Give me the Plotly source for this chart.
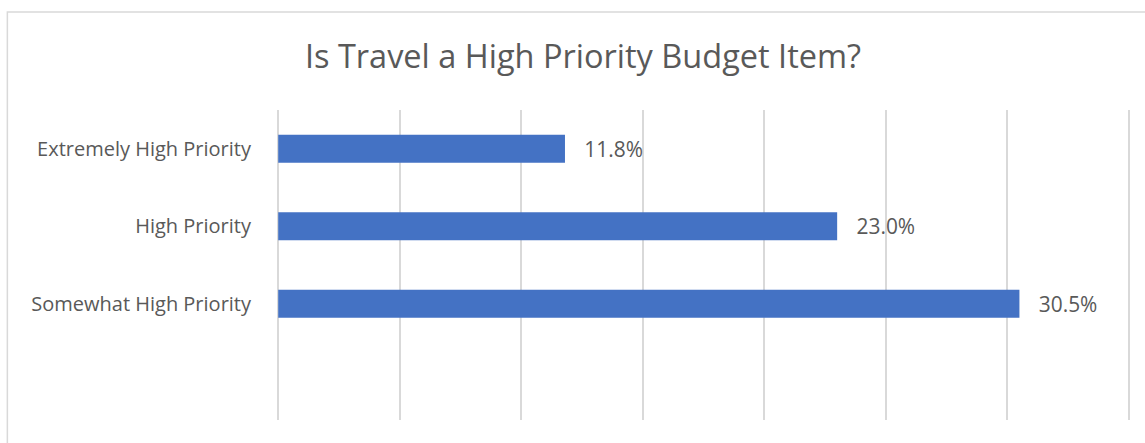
import plotly.graph_objects as go

categories = ["Extremely High Priority", "High Priority", "Somewhat High Priority", " "]
values = [11.8, 23.0, 30.5, None]
labels = ["11.8%", "23.0%", "30.5%", ""]
title_text = "Is Travel a High Priority Budget Item?"

font_family = "Open Sans, Noto Sans, sans-serif"
text_color = "#595959"
grid_color = "#d9d9d9"
bar_color = "#4472C4"

fig = go.Figure()
fig.add_trace(go.Bar(
    y=categories,
    x=values,
    orientation="h",
    marker=dict(color=bar_color, line=dict(width=0)),
    width=0.36,
    text=["   " + t if t else "" for t in labels],
    textposition="outside",
    textfont=dict(family=font_family, size=21, color=text_color),
    cliponaxis=False,
    hoverinfo="skip",
))

W, H = 1145, 443
pad = 0.05
xmin, xmax = 0 - pad, 35 + pad
x0px, x35px = 278, 1129
scale = (x35px - x0px) / 35.0
pl = x0px - pad * scale
pr = W - (x35px + pad * scale)
pt, pb = 110, 23
pw, ph = W - pl - pr, H - pt - pb

def px_to_paper_x(x):
    return (x - pl) / pw

def px_to_paper_y(y):
    return (H - pb - y) / ph

fig.add_shape(
    type="rect", xref="paper", yref="paper",
    x0=px_to_paper_x(7), x1=px_to_paper_x(1160),
    y0=px_to_paper_y(460), y1=px_to_paper_y(12),
    line=dict(color=grid_color, width=1.5), fillcolor="rgba(0,0,0,0)",
    layer="below",
)

fig.update_layout(
    width=W, height=H,
    margin=dict(l=pl, r=pr, t=pt, b=pb),
    paper_bgcolor="white",
    plot_bgcolor="white",
    showlegend=False,
    title=dict(
        text=title_text,
        x=583 / W,
        xanchor="center",
        y=1 - 57 / H,
        yanchor="middle",
        font=dict(family=font_family, size=32.5, color=text_color),
    ),
    xaxis=dict(
        range=[xmin, xmax],
        dtick=5,
        tick0=0,
        showgrid=True,
        gridcolor=grid_color,
        gridwidth=1.5,
        zeroline=False,
        showticklabels=False,
        showline=False,
        fixedrange=True,
    ),
    yaxis=dict(
        categoryorder="array",
        categoryarray=categories,
        autorange="reversed",
        showgrid=False,
        showline=False,
        zeroline=False,
        ticks="",
        ticklabelstandoff=25,
        tickfont=dict(family=font_family, size=20, color=text_color),
    ),
)

fig.write_html("out.html")
